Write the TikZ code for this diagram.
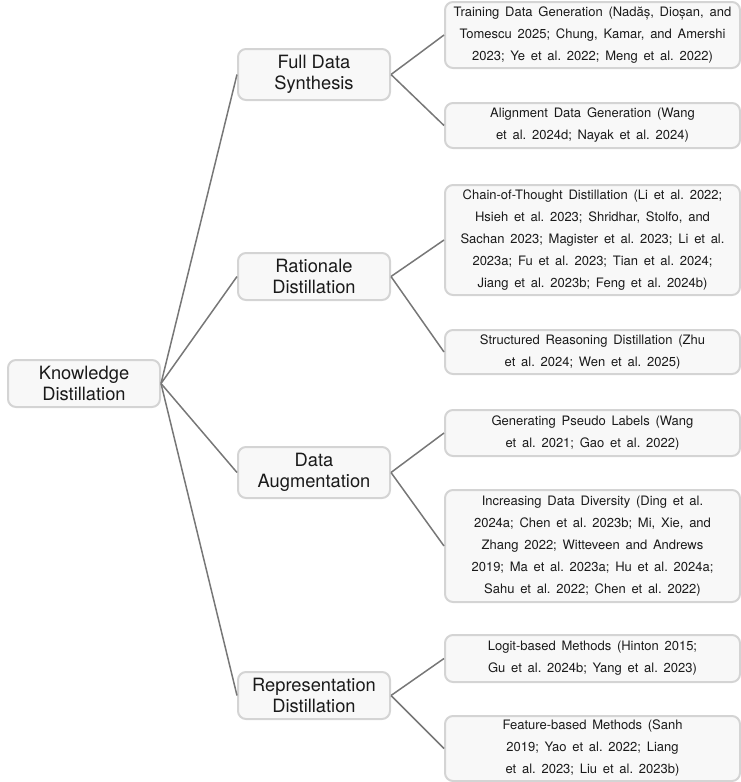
\documentclass[tikz,border=0pt]{standalone}
\usepackage{fontspec}
\setmainfont{TeX Gyre Heros}
\newfontfamily\leaffont[WordSpace=1.6]{TeX Gyre Heros}
\definecolor{boxline}{HTML}{D4D4D4}
\definecolor{boxfill}{HTML}{F8F8F8}
\definecolor{linkc}{HTML}{777777}
\definecolor{textc}{HTML}{1A1A1A}
\begin{document}
\begin{tikzpicture}[x=1pt,y=-1pt,
  box/.style={draw=boxline, fill=boxfill, line width=2pt, rounded corners=8pt,
    align=center, inner sep=0pt, text=textc},
  cat/.style={box, minimum width=152pt, font=\frenchspacing\fontsize{18.3}{20.5}\selectfont},
  leaf/.style={box, minimum width=295pt, font=\leaffont\frenchspacing\fontsize{13}{22}\selectfont},
  link/.style={draw=linkc, line width=1.5pt}]
\useasboundingbox (0,0) rectangle (741,782);

\node[cat, minimum height=47pt] (root) at (84,383.5) {Knowledge\\Distillation};
\node[cat, minimum height=51pt] (fds) at (314,74.5) {Full Data\\Synthesis};
\node[cat, minimum height=47pt] (rd) at (314,276.5) {Rationale\\Distillation};
\node[cat, minimum height=51pt] (da) at (314,472.5) {Data\\Augmentation};
\node[cat, minimum height=47pt] (rep) at (314,695.5) {Representation\\Distillation};

\node[leaf, minimum height=66pt] (l1) at (592.5,35) {Training Data Generation (Nadăș, Dioșan, and\\Tomescu 2025; Chung, Kamar, and Amershi\\2023; Ye et al. 2022; Meng et al. 2022)};
\node[leaf, minimum height=45pt] (l2) at (592.5,125.5) {Alignment Data Generation (Wang\\et al. 2024d; Nayak et al. 2024)};
\node[leaf, minimum height=110pt] (l3) at (592.5,240) {Chain-of-Thought Distillation (Li et al. 2022;\\Hsieh et al. 2023; Shridhar, Stolfo, and\\Sachan 2023; Magister et al. 2023; Li et al.\\2023a; Fu et al. 2023; Tian et al. 2024;\\Jiang et al. 2023b; Feng et al. 2024b)};
\node[leaf, minimum height=44pt] (l4) at (592.5,352) {Structured Reasoning Distillation (Zhu\\et al. 2024; Wen et al. 2025)};
\node[leaf, minimum height=46pt] (l5) at (592.5,433) {Generating Pseudo Labels (Wang\\et al. 2021; Gao et al. 2022)};
\node[leaf, minimum height=112pt] (l6) at (592.5,546) {Increasing Data Diversity (Ding et al.\\2024a; Chen et al. 2023b; Mi, Xie, and\\Zhang 2022; Witteveen and Andrews\\2019; Ma et al. 2023a; Hu et al. 2024a;\\Sahu et al. 2022; Chen et al. 2022)};
\node[leaf, minimum height=47pt] (l7) at (592.5,658.5) {Logit-based Methods (Hinton 2015;\\Gu et al. 2024b; Yang et al. 2023)};
\node[leaf, minimum height=65pt] (l8) at (592.5,748.5) {Feature-based Methods (Sanh\\2019; Yao et al. 2022; Liang\\et al. 2023; Liu et al. 2023b)};

\foreach \c in {fds,rd,da,rep} \draw[link] (root.east) -- (\c.west);
\draw[link] (fds.east) -- (l1.west);
\draw[link] (fds.east) -- (l2.west);
\draw[link] (rd.east) -- (l3.west);
\draw[link] (rd.east) -- (l4.west);
\draw[link] (da.east) -- (l5.west);
\draw[link] (da.east) -- (l6.west);
\draw[link] (rep.east) -- (l7.west);
\draw[link] (rep.east) -- (l8.west);
\end{tikzpicture}
\end{document}
